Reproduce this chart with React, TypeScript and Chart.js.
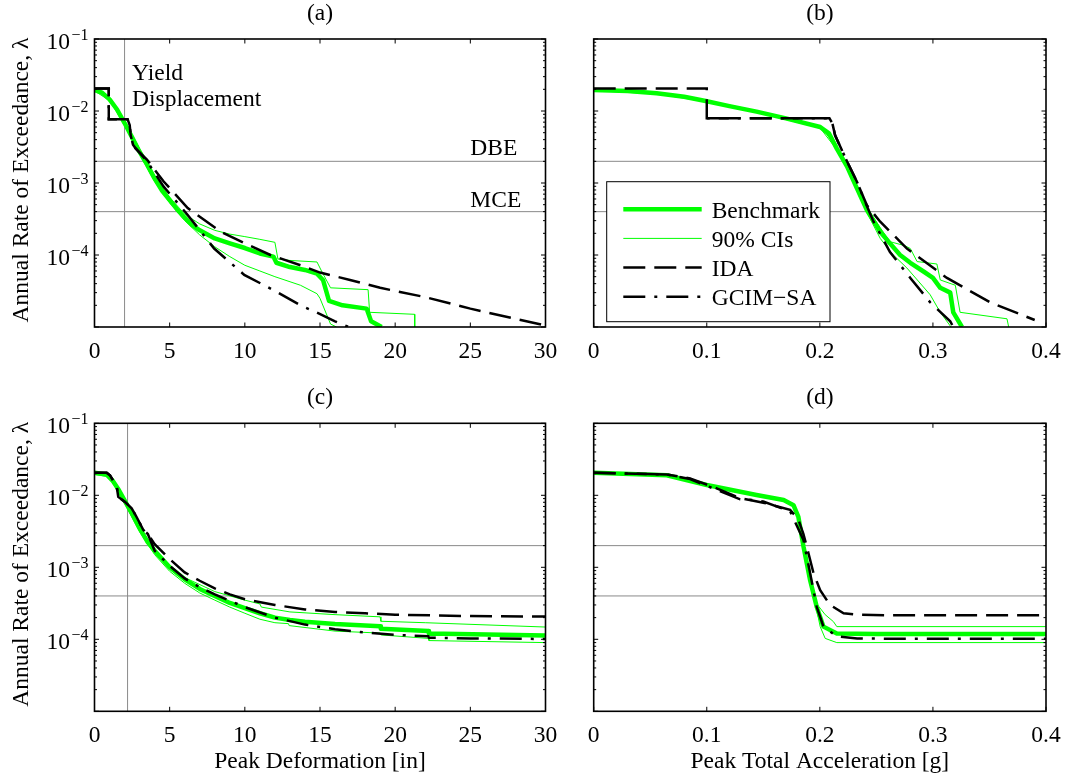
import React, { useEffect, useRef } from 'react';
import { Chart, registerables } from 'chart.js';

Chart.register(...registerables);

const W = 1065;
const H = 779;
const FONT = '"Liberation Serif", "Times New Roman", serif';
const GREEN = '#00ff00';
const GRAY = '#8a8a8a';

// ---------- shared values ----------
const DBE = 0.002;
const MCE = 0.0004;
const Y_MIN = 1e-5;
const Y_MAX = 1e-1;
const yTickExponents = [-1, -2, -3, -4];
const xTicksDef = [0, 5, 10, 15, 20, 25, 30];
const xTickLabelsDef = ['0', '5', '10', '15', '20', '25', '30'];
const xTicksAcc = [0, 0.1, 0.2, 0.3, 0.4];
const xTickLabelsAcc = ['0', '0.1', '0.2', '0.3', '0.4'];
const panelTitles = ['(a)', '(b)', '(c)', '(d)'];
const legendLabels = ['Benchmark', '90% CIs', 'IDA', 'GCIM\u2212SA'];
const yAxisTitle = 'Annual Rate of Exceedance, \u03bb';
const xTitleDef = 'Peak Deformation [in]';
const xTitleAcc = 'Peak Total Acceleration [g]';
const yieldA = 2.0;
const yieldC = 2.2;

// ---------- panel (a): peak deformation, top ----------
const aBenchX = [0, 0.5, 1.0, 1.5, 2.0, 2.5, 3.0, 3.5, 4.0, 4.5, 5.0, 5.5, 6.0, 6.5, 7.0, 8.0, 9.0, 10.0, 11.0, 11.9, 12.1, 13.0, 14.0, 14.8, 15.2, 15.6, 16.5, 18.1, 18.4, 19.1];
const aBenchY = [0.0195, 0.018, 0.0145, 0.0105, 0.0068, 0.0043, 0.0027, 0.0018, 0.00115, 0.00078, 0.00058, 0.00043, 0.00033, 0.00026, 0.00022, 0.00017, 0.000145, 0.000125, 0.000105, 0.000095, 0.000078, 0.000068, 0.000062, 0.000055, 0.000045, 0.000023, 0.00002, 0.000018, 0.000012, 0.00001];
const aUpX = [0, 1, 2, 3, 4, 5, 6, 7, 8, 9, 10, 11, 12, 12.2, 13, 14.8, 15.1, 15.7, 18.2, 18.3, 21.3, 21.3];
const aUpY = [0.0205, 0.0152, 0.0073, 0.003, 0.00125, 0.00063, 0.00037, 0.00027, 0.00022, 0.000195, 0.00018, 0.000165, 0.00015, 0.000088, 0.000084, 0.00008, 0.00006, 0.000035, 0.000033, 0.000016, 0.000015, 0.00001];
const aLoX = [0, 1, 2, 3, 4, 5, 6, 7, 8, 9, 10, 11, 12, 13.7, 14.8, 15.0, 15.7, 16.1];
const aLoY = [0.019, 0.014, 0.0064, 0.0025, 0.00105, 0.00053, 0.0003, 0.00019, 0.00013, 0.000095, 0.000072, 0.00006, 0.00005, 0.000038, 0.000029, 0.000025, 0.000011, 0.00001];
const aIdaX = [0, 0.95, 0.95, 2.2, 2.34, 2.41, 2.56, 2.75, 3.5, 4.6, 6.2, 8.4, 10, 11.7, 13.7, 15, 17, 19, 22, 25, 28, 30];
const aIdaY = [0.0205, 0.0205, 0.0077, 0.0077, 0.0064, 0.0046, 0.0034, 0.003, 0.0021, 0.00105, 0.00045, 0.00021, 0.000145, 0.0001, 0.000072, 0.000057, 0.000045, 0.000035, 0.000026, 0.000018, 0.000013, 0.0000105];
const aGcimX = [0, 0.95, 0.95, 2.2, 2.34, 2.41, 2.56, 2.75, 3.5, 4.6, 6.2, 7.96, 9.96, 12.1, 13.7, 14.75, 16, 16.9];
const aGcimY = [0.0205, 0.0205, 0.0077, 0.0077, 0.0064, 0.0046, 0.0034, 0.003, 0.002, 0.00089, 0.00036, 0.000123, 0.000053, 0.000031, 0.00002, 0.000016, 0.000012, 0.00001];

// ---------- panel (b): peak total acceleration, top ----------
const bBenchX = [0, 0.03, 0.0557, 0.08, 0.099, 0.12, 0.144, 0.17, 0.2003, 0.208, 0.215, 0.224, 0.2327, 0.2416, 0.2534, 0.262, 0.271, 0.28, 0.2917, 0.3, 0.3065, 0.3153, 0.318, 0.3257];
const bBenchY = [0.0195, 0.0189, 0.0176, 0.0158, 0.0138, 0.0117, 0.0098, 0.0079, 0.006, 0.0049, 0.003, 0.0017, 0.00085, 0.00042, 0.00021, 0.000145, 0.0001, 0.000078, 0.000059, 0.000048, 0.000035, 0.00003, 0.000016, 0.00001];
const bUpX = [0, 0.0557, 0.099, 0.144, 0.2003, 0.215, 0.224, 0.2327, 0.2416, 0.2534, 0.262, 0.275, 0.28, 0.286, 0.3035, 0.3065, 0.3198, 0.324, 0.3655, 0.367];
const bUpY = [0.0198, 0.0179, 0.0141, 0.0101, 0.0062, 0.0031, 0.0018, 0.0009, 0.00046, 0.00024, 0.000153, 0.000135, 0.000123, 0.000081, 0.000075, 0.000045, 0.000038, 0.000016, 0.000013, 0.00001];
const bLoX = [0, 0.0557, 0.099, 0.144, 0.2003, 0.215, 0.224, 0.2327, 0.2416, 0.2534, 0.265, 0.277, 0.2976, 0.3065, 0.316];
const bLoY = [0.0192, 0.0173, 0.0135, 0.0096, 0.0058, 0.0029, 0.0016, 0.0008, 0.00039, 0.00017, 0.0001, 0.000066, 0.000028, 0.000016, 0.00001];
const bIdaX = [0, 0.1, 0.1, 0.2085, 0.211, 0.2135, 0.224, 0.2327, 0.2416, 0.2534, 0.277, 0.3124, 0.3507, 0.39];
const bIdaY = [0.0206, 0.0206, 0.0079, 0.0079, 0.0068, 0.0046, 0.002, 0.00105, 0.00049, 0.00029, 0.000123, 0.000048, 0.000022, 0.0000125];
const bGcimX = [0.1, 0.2085, 0.211, 0.2135, 0.224, 0.2327, 0.2416, 0.2475, 0.262, 0.28, 0.2976, 0.3153, 0.318];
const bGcimY = [0.0079, 0.0079, 0.0068, 0.0046, 0.002, 0.00105, 0.00048, 0.00029, 0.00011, 0.000048, 0.000022, 0.000012, 0.00001];

// ---------- panel (c): peak deformation, bottom ----------
const cBenchX = [0, 0.8, 1.2, 1.6, 2, 2.5, 3, 3.5, 4, 4.5, 5, 6, 7, 8, 9, 10, 11, 12, 13, 14, 16, 19, 19.05, 22.2, 22.25, 30];
const cBenchY = [0.0205, 0.0195, 0.016, 0.012, 0.0085, 0.0055, 0.0035, 0.0023, 0.0017, 0.0013, 0.001, 0.00068, 0.0005, 0.0004, 0.00032, 0.00027, 0.00023, 0.0002, 0.000185, 0.000175, 0.000163, 0.000152, 0.00014, 0.00013, 0.00012, 0.000113];
const cUpX = [0, 1, 2, 3, 4, 5, 6, 8, 10, 11, 11.1, 13, 16, 19, 19.05, 22, 30];
const cUpY = [0.021, 0.0195, 0.0085, 0.0036, 0.0018, 0.00105, 0.00072, 0.00046, 0.00035, 0.00031, 0.00028, 0.00024, 0.00022, 0.000205, 0.000178, 0.00017, 0.000148];
const cLoX = [0, 1, 2, 3, 4, 5, 6, 7, 8, 9, 10, 11, 12, 12.9, 12.95, 16, 19, 19.05, 22.2, 22.25, 30];
const cLoY = [0.0195, 0.018, 0.0078, 0.0031, 0.0015, 0.00088, 0.0006, 0.00044, 0.00035, 0.00028, 0.00023, 0.00019, 0.00017, 0.000165, 0.000155, 0.00013, 0.000122, 0.000115, 0.000103, 0.000096, 0.00009];
const cIdaX = [0, 0.81, 1.03, 1.48, 1.58, 2.03, 2.47, 2.8, 3.25, 3.55, 4.0, 5.0, 6.0, 7.0, 8.0, 9.0, 10.0, 12.0, 14.0, 16.0, 18.0, 20.0, 25.0, 30.0];
const cIdaY = [0.0206, 0.0206, 0.019, 0.0131, 0.0095, 0.0081, 0.0066, 0.005, 0.0033, 0.0029, 0.0021, 0.0013, 0.00085, 0.00065, 0.00051, 0.00042, 0.00036, 0.0003, 0.00026, 0.00024, 0.00023, 0.00022, 0.00021, 0.000207];
const cGcimX = [0, 0.81, 1.03, 1.48, 1.58, 2.03, 2.47, 2.8, 3.25, 3.55, 4.0, 5.0, 6.0, 7.0, 8.0, 10.0, 12.0, 14.0, 16.0, 18.0, 20.0, 22.2, 22.25, 25.0, 30.0];
const cGcimY = [0.0206, 0.0206, 0.019, 0.0131, 0.0095, 0.0081, 0.0066, 0.005, 0.0033, 0.0029, 0.0017, 0.00105, 0.0007, 0.00053, 0.00042, 0.00028, 0.0002, 0.00016, 0.000138, 0.000124, 0.000115, 0.00011, 0.000105, 0.000103, 0.000101];

// ---------- panel (d): peak total acceleration, bottom ----------
const dBenchX = [0, 0.0646, 0.1, 0.144, 0.168, 0.1767, 0.181, 0.1855, 0.1914, 0.1973, 0.2032, 0.215, 0.25, 0.4];
const dBenchY = [0.0205, 0.019, 0.0139, 0.0101, 0.0086, 0.0073, 0.005, 0.00195, 0.00066, 0.00028, 0.00015, 0.00012, 0.000118, 0.000118];
const dUpX = [0, 0.0646, 0.1, 0.144, 0.168, 0.1767, 0.181, 0.1855, 0.1914, 0.1973, 0.2047, 0.212, 0.215, 0.4];
const dUpY = [0.0208, 0.0193, 0.0142, 0.0104, 0.0089, 0.0076, 0.0053, 0.0021, 0.00072, 0.00031, 0.00022, 0.000176, 0.00015, 0.00015];
const dLoX = [0, 0.0646, 0.1, 0.144, 0.168, 0.1767, 0.181, 0.1855, 0.1914, 0.1973, 0.2003, 0.2047, 0.215, 0.4];
const dLoY = [0.0202, 0.0187, 0.0136, 0.0098, 0.0083, 0.007, 0.0047, 0.0018, 0.0006, 0.00025, 0.00015, 0.000103, 0.00009, 0.00009];
const dIdaX = [0, 0.0646, 0.0852, 0.1088, 0.1295, 0.138, 0.15, 0.1737, 0.181, 0.1855, 0.19, 0.1944, 0.2003, 0.209, 0.221, 0.233, 0.26, 0.4];
const dIdaY = [0.0205, 0.0195, 0.0172, 0.0125, 0.0091, 0.0086, 0.0079, 0.0063, 0.0046, 0.0029, 0.00155, 0.00083, 0.00048, 0.0003, 0.00023, 0.00022, 0.000215, 0.000215];
const dGcimX = [0, 0.0646, 0.0852, 0.1088, 0.1295, 0.141, 0.15, 0.1737, 0.1855, 0.1914, 0.1973, 0.2032, 0.215, 0.233, 0.26, 0.4];
const dGcimY = [0.0205, 0.0195, 0.0168, 0.0119, 0.0088, 0.0086, 0.0082, 0.006, 0.0024, 0.00083, 0.00028, 0.00015, 0.00011, 0.000103, 0.000102, 0.000102];

type Area = { l: number; t: number; r: number; b: number };
type Series = { bx: number[]; by: number[]; ux: number[]; uy: number[]; lx: number[]; ly: number[]; ix: number[]; iy: number[]; gx: number[]; gy: number[] };
type PanelCfg = {
  area: Area;
  xMax: number;
  xTicks: number[];
  xLabels: string[];
  title: string;
  yLabels: boolean;
  xTitle: string | null;
  yieldX: number | null;
  yieldText: boolean;
  levelText: boolean;
  legend: boolean;
  s: Series;
};

const panels: PanelCfg[] = [
  {
    area: { l: 94.5, t: 39, r: 545.5, b: 327 }, xMax: 30, xTicks: xTicksDef, xLabels: xTickLabelsDef,
    title: panelTitles[0], yLabels: true, xTitle: null, yieldX: yieldA, yieldText: true, levelText: true, legend: false,
    s: { bx: aBenchX, by: aBenchY, ux: aUpX, uy: aUpY, lx: aLoX, ly: aLoY, ix: aIdaX, iy: aIdaY, gx: aGcimX, gy: aGcimY },
  },
  {
    area: { l: 593.7, t: 39, r: 1046, b: 327 }, xMax: 0.4, xTicks: xTicksAcc, xLabels: xTickLabelsAcc,
    title: panelTitles[1], yLabels: false, xTitle: null, yieldX: null, yieldText: false, levelText: false, legend: true,
    s: { bx: bBenchX, by: bBenchY, ux: bUpX, uy: bUpY, lx: bLoX, ly: bLoY, ix: bIdaX, iy: bIdaY, gx: bGcimX, gy: bGcimY },
  },
  {
    area: { l: 94.5, t: 423.3, r: 545.5, b: 711.3 }, xMax: 30, xTicks: xTicksDef, xLabels: xTickLabelsDef,
    title: panelTitles[2], yLabels: true, xTitle: xTitleDef, yieldX: yieldC, yieldText: false, levelText: false, legend: false,
    s: { bx: cBenchX, by: cBenchY, ux: cUpX, uy: cUpY, lx: cLoX, ly: cLoY, ix: cIdaX, iy: cIdaY, gx: cGcimX, gy: cGcimY },
  },
  {
    area: { l: 593.7, t: 423.3, r: 1046, b: 711.3 }, xMax: 0.4, xTicks: xTicksAcc, xLabels: xTickLabelsAcc,
    title: panelTitles[3], yLabels: false, xTitle: xTitleAcc, yieldX: null, yieldText: false, levelText: false, legend: false,
    s: { bx: dBenchX, by: dBenchY, ux: dUpX, uy: dUpY, lx: dLoX, ly: dLoY, ix: dIdaX, iy: dIdaY, gx: dGcimX, gy: dGcimY },
  },
];

const pts = (xs: number[], ys: number[]) => xs.map((x, i) => ({ x, y: ys[i] }));

const IDA_DASH = [22, 9];
const GCIM_DASH = [22, 9, 3, 9];
const FS = 23.5;
const FS_SUP = 16;

function line(ctx: CanvasRenderingContext2D, x1: number, y1: number, x2: number, y2: number) {
  ctx.beginPath();
  ctx.moveTo(x1, y1);
  ctx.lineTo(x2, y2);
  ctx.stroke();
}

function decorPlugin(p: PanelCfg) {
  return {
    id: 'decor',
    afterDatasetsDraw(chart: any) {
      const ctx: CanvasRenderingContext2D = chart.ctx;
      const { left, top, right, bottom } = chart.chartArea;
      const xs = chart.scales.x;
      const ys = chart.scales.y;
      ctx.save();
      ctx.strokeStyle = '#000';
      ctx.fillStyle = '#000';
      ctx.setLineDash([]);
      ctx.lineWidth = 1;
      // x ticks (inward, bottom and top)
      for (const t of p.xTicks) {
        const px = xs.getPixelForValue(t);
        line(ctx, px, bottom, px, bottom - 4.5);
        line(ctx, px, top, px, top + 4.5);
      }
      // y ticks (log, major + minor)
      for (let e = -5; e <= -1; e++) {
        for (let m = 1; m <= 9; m++) {
          const v = m * Math.pow(10, e);
          if (v > Y_MAX * 1.0001) break;
          const py = ys.getPixelForValue(v);
          const len = m === 1 ? 4.5 : 2.5;
          line(ctx, left, py, left + len, py);
          line(ctx, right, py, right - len, py);
        }
      }
      // frame
      ctx.lineWidth = 1.6;
      ctx.strokeRect(left, top, right - left, bottom - top);

      // x tick labels
      ctx.font = `${FS}px ${FONT}`;
      ctx.textAlign = 'center';
      ctx.textBaseline = 'alphabetic';
      p.xTicks.forEach((t, i) => {
        ctx.fillText(p.xLabels[i], xs.getPixelForValue(t), bottom + 30.5);
      });

      // y tick labels with superscript exponent
      if (p.yLabels) {
        for (const e of yTickExponents) {
          const py = ys.getPixelForValue(Math.pow(10, e));
          ctx.font = `${FS}px ${FONT}`;
          const w1 = ctx.measureText('10').width;
          const expText = '\u2212' + String(Math.abs(e));
          ctx.font = `${FS_SUP}px ${FONT}`;
          const w2 = ctx.measureText(expText).width;
          const x0 = left - 6 - w2 - 1.5 - w1;
          ctx.textAlign = 'left';
          ctx.font = `${FS}px ${FONT}`;
          ctx.fillText('10', x0, py + 10);
          ctx.font = `${FS_SUP}px ${FONT}`;
          ctx.fillText(expText, x0 + w1 + 1.5, py + 1);
        }
        // y axis title
        ctx.save();
        ctx.font = `${FS}px ${FONT}`;
        ctx.textAlign = 'center';
        ctx.textBaseline = 'alphabetic';
        ctx.translate(27.5, (top + bottom) / 2 - 3);
        ctx.rotate(-Math.PI / 2);
        ctx.fillText(yAxisTitle, 0, 0);
        ctx.restore();
      }

      // panel title
      ctx.font = `${FS}px ${FONT}`;
      ctx.textAlign = 'center';
      ctx.fillText(p.title, (left + right) / 2, top - 19);

      // x axis title
      if (p.xTitle) {
        ctx.fillText(p.xTitle, (left + right) / 2, bottom + 57);
      }

      // annotations
      ctx.textAlign = 'left';
      if (p.yieldText) {
        const tx = xs.getPixelForValue(2.5);
        ctx.fillText('Yield', tx, top + 41);
        ctx.fillText('Displacement', tx, top + 67);
      }
      if (p.levelText) {
        const tx = xs.getPixelForValue(25);
        ctx.fillText('DBE', tx, ys.getPixelForValue(DBE) - 6);
        ctx.fillText('MCE', tx, ys.getPixelForValue(MCE) - 5);
      }

      // legend
      if (p.legend) {
        const bx = left + 13;
        const by = top + 142.7;
        const bw = 223.3;
        const bh = 140;
        ctx.fillStyle = '#fff';
        ctx.fillRect(bx, by, bw, bh);
        ctx.strokeStyle = '#000';
        ctx.lineWidth = 1;
        ctx.strokeRect(bx, by, bw, bh);
        const styles = [
          { c: GREEN, w: 4.5, d: [] as number[] },
          { c: GREEN, w: 1, d: [] as number[] },
          { c: '#000', w: 2.5, d: IDA_DASH },
          { c: '#000', w: 2.5, d: GCIM_DASH },
        ];
        legendLabels.forEach((lab, i) => {
          const cy = by + 27.5 + i * 29.2;
          const st = styles[i];
          ctx.strokeStyle = st.c;
          ctx.lineWidth = st.w;
          ctx.setLineDash(st.d);
          line(ctx, bx + 16.6, cy, bx + 95, cy);
          ctx.setLineDash([]);
          ctx.fillStyle = '#000';
          ctx.font = `${FS}px ${FONT}`;
          ctx.textAlign = 'left';
          ctx.fillText(lab, bx + 105, cy + 8.5);
        });
      }
      ctx.restore();
    },
  };
}

function buildConfig(p: PanelCfg): any {
  const s = p.s;
  const datasets: any[] = [
    { label: 'GCIM\u2212SA', data: pts(s.gx, s.gy), borderColor: '#000', borderWidth: 2.5, borderDash: GCIM_DASH },
    { label: 'IDA', data: pts(s.ix, s.iy), borderColor: '#000', borderWidth: 2.5, borderDash: IDA_DASH },
    { label: 'Benchmark', data: pts(s.bx, s.by), borderColor: GREEN, borderWidth: 4.5, borderJoinStyle: 'round' },
    { label: '90% CIs (upper)', data: pts(s.ux, s.uy), borderColor: GREEN, borderWidth: 1 },
    { label: '90% CIs (lower)', data: pts(s.lx, s.ly), borderColor: GREEN, borderWidth: 1 },
    { label: 'DBE', data: [{ x: 0, y: DBE }, { x: p.xMax, y: DBE }], borderColor: GRAY, borderWidth: 1 },
    { label: 'MCE', data: [{ x: 0, y: MCE }, { x: p.xMax, y: MCE }], borderColor: GRAY, borderWidth: 1 },
  ];
  if (p.yieldX !== null) {
    datasets.push({ label: 'Yield', data: [{ x: p.yieldX, y: Y_MIN }, { x: p.yieldX, y: Y_MAX }], borderColor: GRAY, borderWidth: 1 });
  }
  datasets.forEach((d) => {
    d.pointRadius = 0;
    d.fill = false;
    d.tension = 0;
  });
  return {
    type: 'line',
    data: { datasets },
    options: {
      responsive: false,
      maintainAspectRatio: false,
      animation: false,
      devicePixelRatio: 1,
      events: [],
      layout: { padding: { left: p.area.l, top: p.area.t, right: W - p.area.r, bottom: H - p.area.b } },
      plugins: { legend: { display: false }, tooltip: { enabled: false }, title: { display: false } },
      scales: {
        x: { type: 'linear', min: 0, max: p.xMax, display: false },
        y: { type: 'logarithmic', min: Y_MIN, max: Y_MAX, display: false },
      },
    },
    plugins: [decorPlugin(p)],
  };
}

function PanelCanvas({ cfg }: { cfg: PanelCfg }) {
  const ref = useRef<HTMLCanvasElement>(null);
  useEffect(() => {
    if (!ref.current) return;
    const chart = new Chart(ref.current, buildConfig(cfg));
    return () => chart.destroy();
  }, [cfg]);
  return (
    <canvas
      ref={ref}
      width={W}
      height={H}
      style={{ position: 'absolute', left: 0, top: 0, width: W, height: H }}
    />
  );
}

export default function App() {
  return (
    <div style={{ position: 'absolute', left: 0, top: 0, width: W, height: H, background: '#fff', overflow: 'hidden' }}>
      {panels.map((p, i) => (
        <PanelCanvas key={i} cfg={p} />
      ))}
    </div>
  );
}
